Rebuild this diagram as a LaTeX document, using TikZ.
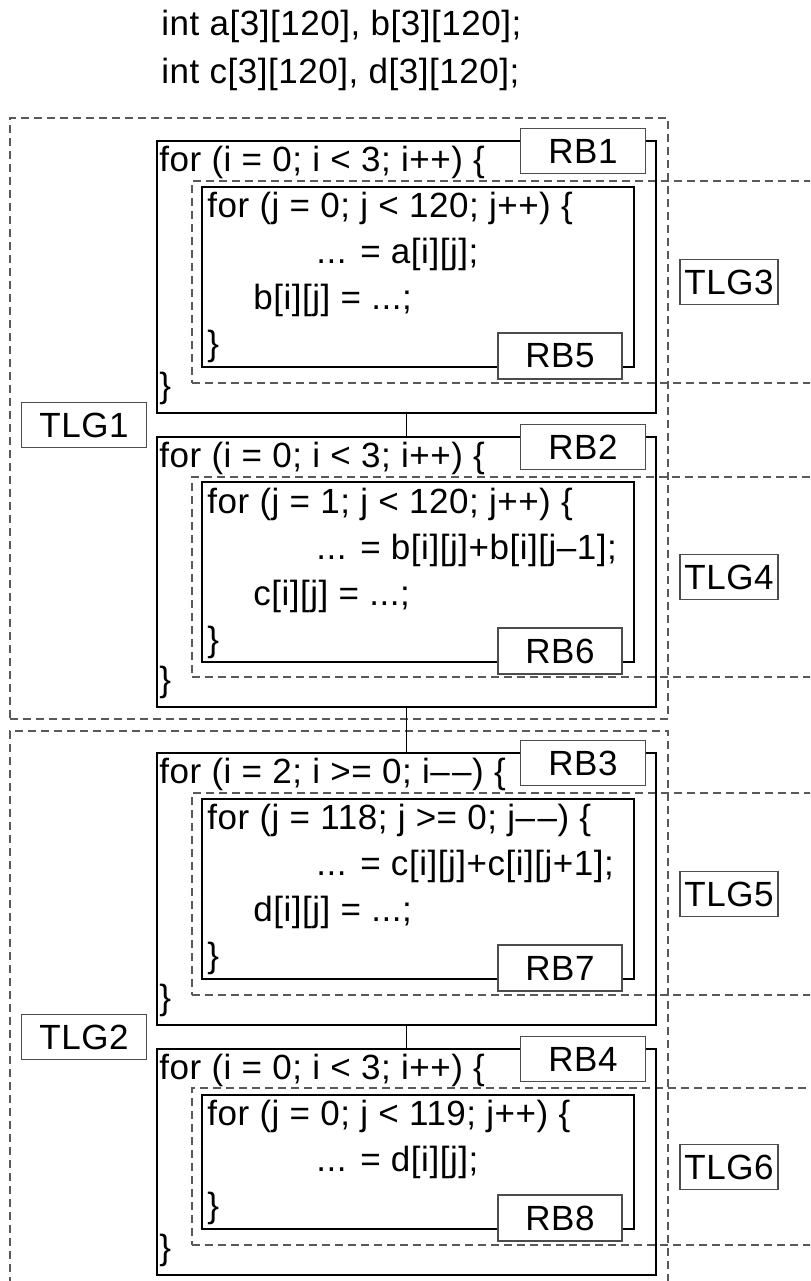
\documentclass[tikz,border=0pt]{standalone}
\usepackage{fontspec}
\setmainfont{Liberation Sans}[LetterSpace=1.5]
\usepackage{tikz}
\usetikzlibrary{fit}
\tikzset{rbbox/.style={draw, line width=1pt, inner sep=0pt}}
\tikzset{tlgbox/.style={draw=black!65, line width=0.6pt, dash pattern=on 4pt off 2.5pt, inner sep=0pt}}
\tikzset{tag/.style={draw=black!70, line width=0.6pt, fill=white, minimum width=62.5pt, minimum height=22.5pt, inner sep=0pt}}
\tikzset{code/.style={anchor=base west, inner sep=0pt}}
\tikzset{link/.style={line width=0.8pt}}
\newcommand{\dec}{\textendash\kern1.2pt\textendash}

\begin{document}
\begin{tikzpicture}[x=0.5pt, y=-0.5pt, font=\fontsize{17.5}{21}\selectfont]
\useasboundingbox (0,0) rectangle (810,1281);
\clip (0,0) rectangle (810,1281);
\node[code] (decl1) at (161,35) {int a[3][120], b[3][120];};
\node[code] (decl2) at (161,83) {int c[3][120], d[3][120];};
\node[tlgbox, fit={(10,118) (668,719)}] (tlg1box) {};
\node[tlgbox, fit={(10,731) (668,1300)}] (tlg2box) {};
\node[tlgbox, fit={(192,181) (830,383)}] (tlg3box) {};
\node[tlgbox, fit={(192,477) (830,677)}] (tlg4box) {};
\node[tlgbox, fit={(192,793) (830,995)}] (tlg5box) {};
\node[tlgbox, fit={(192,1088) (830,1245)}] (tlg6box) {};
\node[rbbox, fit={(157,141) (656,413)}] (rb1box) {};
\node[rbbox, fit={(157,437) (656,707)}] (rb2box) {};
\node[rbbox, fit={(157,753) (656,1025)}] (rb3box) {};
\node[rbbox, fit={(157,1049) (656,1275)}] (rb4box) {};
\node[rbbox, fit={(202,187) (634,367)}] (rb5box) {};
\node[rbbox, fit={(202,482) (634,662)}] (rb6box) {};
\node[rbbox, fit={(202,799) (634,979)}] (rb7box) {};
\node[rbbox, fit={(202,1095) (634,1229)}] (rb8box) {};
\draw[link] (rb1box.south) -- (rb2box.north);
\draw[link] (rb2box.south) -- (rb3box.north);
\draw[link] (rb3box.south) -- (rb4box.north);
\node[code] (rb1for) at (159,171) {for (i = 0; i < 3; i++) \{};
\node[code] (rb5for) at (207,217) {for (j = 0; j < 120; j++) \{};
\node[code] (rb5use) at (316,263) {... = a[i][j];};
\node[code] (rb5def) at (253,309) {b[i][j] = ...;};
\node[code] (rb5end) at (207,355) {\}};
\node[code] (rb1end) at (159,397) {\}};
\node[code] (rb2for) at (159,467) {for (i = 0; i < 3; i++) \{};
\node[code] (rb6for) at (207,513) {for (j = 1; j < 120; j++) \{};
\node[code] (rb6use) at (316,559) {... = b[i][j]+b[i][j\textendash 1];};
\node[code] (rb6def) at (253,605) {c[i][j] = ...;};
\node[code] (rb6end) at (207,651) {\}};
\node[code] (rb2end) at (159,691) {\}};
\node[code] (rb3for) at (159,783) {for (i = 2; i >= 0; i\dec) \{};
\node[code] (rb7for) at (207,829) {for (j = 118; j >= 0; j\dec) \{};
\node[code] (rb7use) at (316,875) {... = c[i][j]+c[i][j+1];};
\node[code] (rb7def) at (253,921) {d[i][j] = ...;};
\node[code] (rb7end) at (207,967) {\}};
\node[code] (rb3end) at (159,1009) {\}};
\node[code] (rb4for) at (159,1079) {for (i = 0; i < 3; i++) \{};
\node[code] (rb8for) at (207,1125) {for (j = 0; j < 119; j++) \{};
\node[code] (rb8use) at (316,1171) {... = d[i][j];};
\node[code] (rb8end) at (207,1217) {\}};
\node[code] (rb4end) at (159,1259) {\}};
\node[tag] (rb1) at (583,151) {RB1};
\node[tag] (rb2) at (583,447) {RB2};
\node[tag] (rb3) at (583,763) {RB3};
\node[tag] (rb4) at (583,1059) {RB4};
\node[tag, minimum width=62pt, minimum height=23pt] (rb5) at (560,356) {RB5};
\node[tag, minimum width=62pt, minimum height=23pt] (rb6) at (560,651) {RB6};
\node[tag, minimum width=62pt, minimum height=23pt] (rb7) at (560,968) {RB7};
\node[tag, minimum width=62pt, minimum height=23pt] (rb8) at (560,1218) {RB8};
\node[tag] (tlg1) at (84,425) {TLG1};
\node[tag] (tlg2) at (84,1037) {TLG2};
\node[tag, minimum width=49pt] (tlg3) at (729,282) {TLG3};
\node[tag, minimum width=49pt] (tlg4) at (729,577) {TLG4};
\node[tag, minimum width=49pt] (tlg5) at (729,894) {TLG5};
\node[tag, minimum width=49pt] (tlg6) at (729,1167) {TLG6};
\end{tikzpicture}
\end{document}
